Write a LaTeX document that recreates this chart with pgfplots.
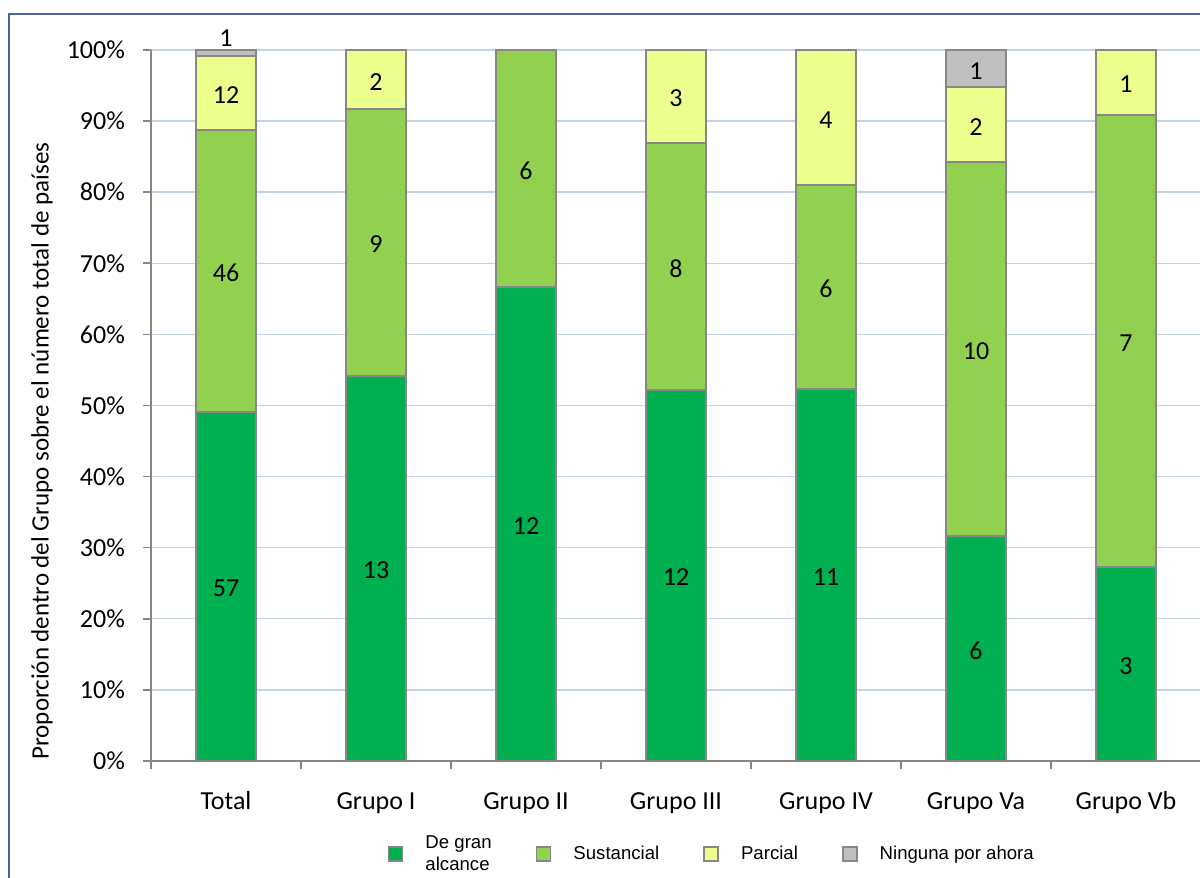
\documentclass[border=0pt]{standalone}
\usepackage{pgfplots}
\pgfplotsset{compat=1.18}
\usepackage{pgfplotstable}
\usepackage{fontspec}
\setmainfont{Carlito}
\newfontfamily\arial{Liberation Sans}
\definecolor{cGran}{HTML}{00B050}
\definecolor{cSust}{HTML}{92D050}
\definecolor{cParc}{HTML}{EBFF8C}
\definecolor{cNing}{HTML}{BFBFBF}
\definecolor{cEdge}{HTML}{878787}
\definecolor{cGrid}{HTML}{C3D4EA}
\definecolor{cAxis}{HTML}{868686}
\definecolor{cFrame}{HTML}{4A6896}

% percentages of each group (counts 57/46/12/1, 13/9/2, 12/6, 12/8/3, 11/6/4, 6/10/2/1, 3/7/1)
\pgfplotstableread{
x y
0 49.138
1 54.167
2 66.667
3 52.174
4 52.381
5 31.579
6 27.273
}\tGran
\pgfplotstableread{
x y
0 39.655
1 37.500
2 33.333
3 34.783
4 28.571
5 52.632
6 63.636
}\tSust
\pgfplotstableread{
x y
0 10.345
1 8.333
2 0
3 13.043
4 19.048
5 10.526
6 9.091
}\tParc
\pgfplotstableread{
x y
0 0.862
1 0
2 0
3 0
4 0
5 5.263
6 0
}\tNing
% label positions (segment middles) and counts
\pgfplotstableread{
x y lab
0 24.569 57
1 27.083 13
2 33.333 12
3 26.087 12
4 26.190 11
5 15.789 6
6 13.636 3
0 68.966 46
1 72.917 9
2 83.333 6
3 69.565 8
4 66.667 6
5 57.895 10
6 59.091 7
0 93.966 12
1 95.833 2
3 93.478 3
4 90.476 4
5 89.474 2
6 95.455 1
0 102.0 1
5 97.368 1
}\tLab

\begin{document}
\begin{tikzpicture}
\begin{axis}[
  at={(0,0)}, anchor=south west,
  scale only axis, width=525pt, height=355.5pt,
  ybar stacked, bar width=30pt,
  xmin=-0.5, xmax=6.5, ymin=0, ymax=100,
  xtick={0,...,6},
  xticklabels={Total,Grupo I,Grupo II,Grupo III,Grupo IV,Grupo Va,Grupo Vb},
  minor xtick={-0.5,0.5,...,6.5},
  ytick={0,10,...,100},
  yticklabels={0\%,10\%,20\%,30\%,40\%,50\%,60\%,70\%,80\%,90\%,100\%},
  axis x line*=bottom, axis y line*=left,
  axis line style={cAxis, line width=0.8pt, -},
  tick style={cAxis, line width=0.8pt},
  major x tick style={draw=none},
  tick align=outside,
  major tick length=4pt, minor tick length=4pt,
  ymajorgrids, grid style={cGrid, line width=0.7pt},
  ticklabel style={font=\fontsize{13}{15}\selectfont, text=black},
  yticklabel style={xshift=-5.5pt},
  xticklabel style={text height=9pt, text depth=3pt, yshift=-7.7pt},
  ylabel={Proporción dentro del Grupo sobre el número total de países},
  ylabel style={font=\fontsize{12.5}{15}\selectfont, at={(axis description cs:-0.1038,0.436)}, anchor=center},
  every axis plot/.append style={draw=cEdge, line width=1pt},
  legend style={at={(0.535,-0.131)}, anchor=center, draw=none, fill=none,
    legend columns=-1, font=\arial\fontsize{9.3}{11}\selectfont,
    cells={align=left},
    /tikz/every odd column/.append style={column sep=9pt},
    /tikz/every even column/.append style={column sep=20pt}},
  legend image code/.code={\draw[#1, line width=0.9pt] (0pt,-3.5pt) rectangle (7pt,3.5pt);},
]
\addplot[fill=cGran] table[x=x,y=y] {\tGran};
\addlegendentry{De gran\\alcance}
\addplot[fill=cSust] table[x=x,y=y] {\tSust};
\addlegendentry{Sustancial}
\addplot[fill=cParc] table[x=x,y=y] {\tParc};
\addlegendentry{Parcial}
\addplot[fill=cNing] table[x=x,y=y] {\tNing};
\addlegendentry{Ninguna por ahora}
\end{axis}
\begin{axis}[
  at={(0,0)}, anchor=south west,
  scale only axis, width=525pt, height=355.5pt,
  xmin=-0.5, xmax=6.5, ymin=0, ymax=100,
  hide axis, clip=false,
]
\addplot[draw=none, mark=none, nodes near coords, point meta=explicit symbolic,
  nodes near coords style={anchor=center, yshift=-1pt, font=\fontsize{13}{15}\selectfont, text=black}]
  table[x=x,y=y,meta=lab] {\tLab};
\end{axis}
\draw[cFrame, line width=1pt] (-71pt,-80pt) -- (-71pt,373.5pt) -- (560pt,373.5pt);
\pgfresetboundingbox
\useasboundingbox (-75.5pt,-58.5pt) rectangle (524.5pt,380.5pt);
\end{tikzpicture}
\end{document}
